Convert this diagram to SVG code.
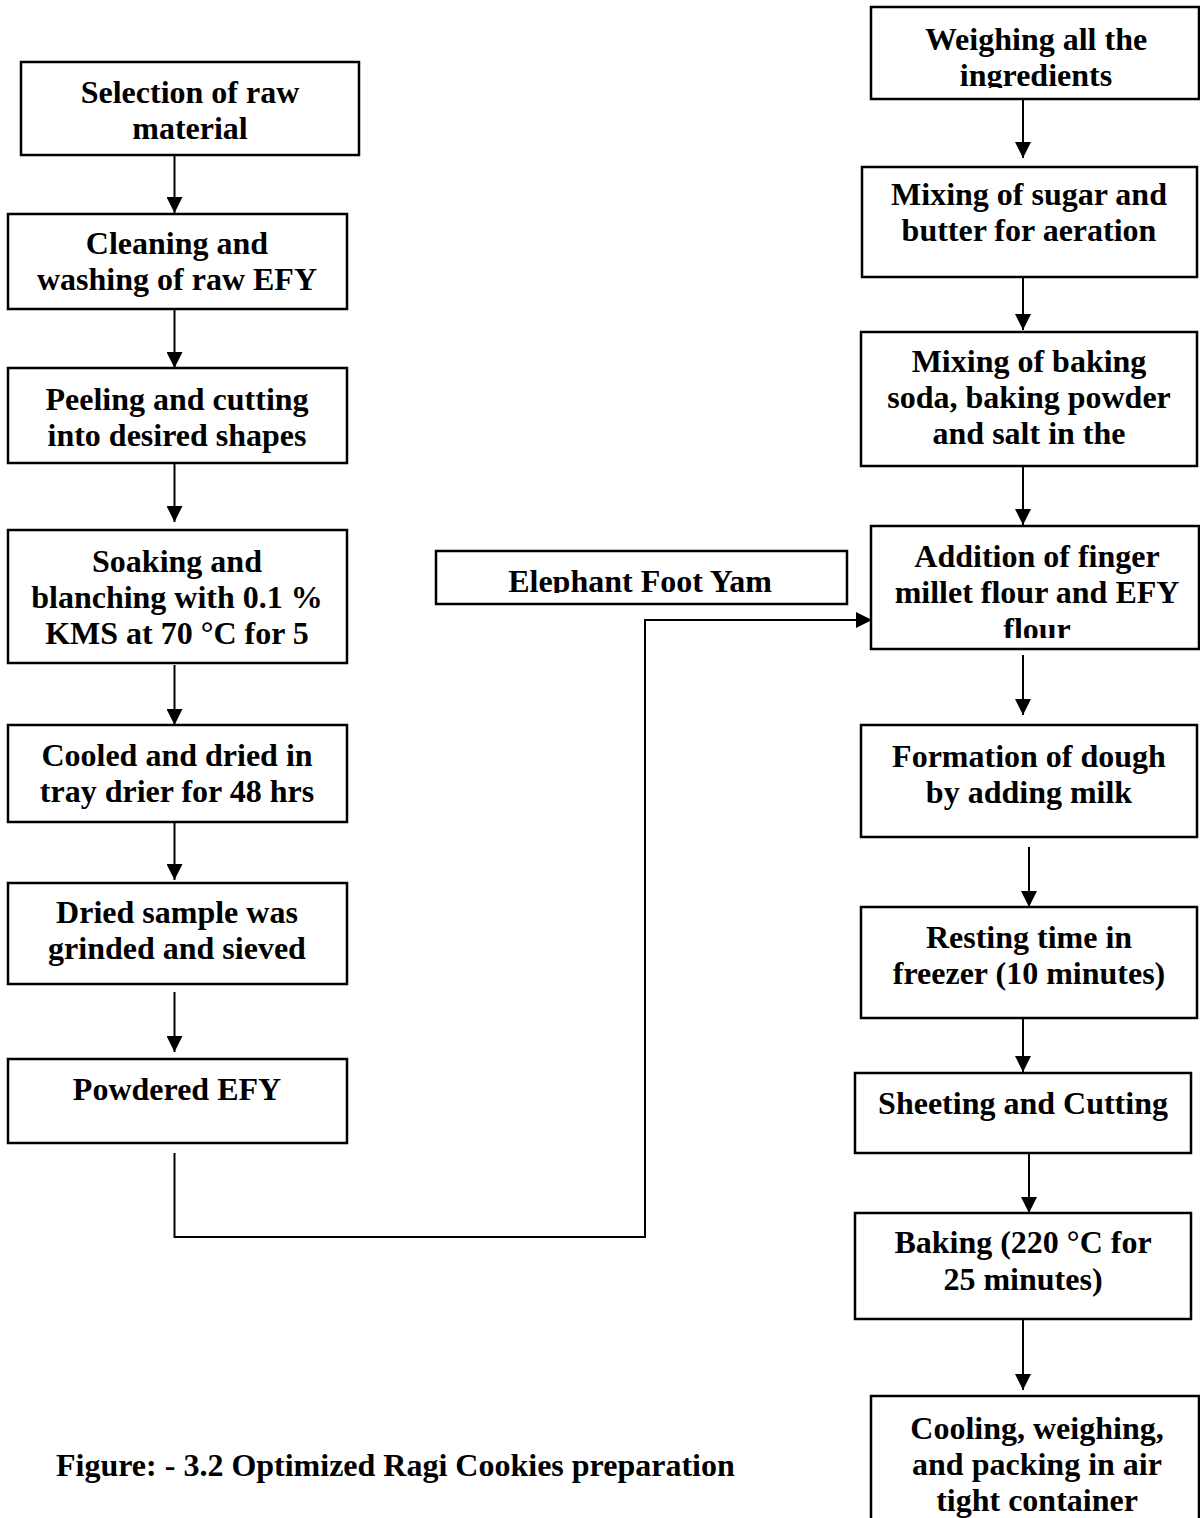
<svg xmlns="http://www.w3.org/2000/svg" width="1200" height="1518" viewBox="0 0 1200 1518">
<style>
.box{fill:#fff;stroke:#000;stroke-width:2.5}
.t{font-family:"Liberation Serif","Times New Roman",serif;font-weight:bold;font-size:32px;text-anchor:middle;fill:#000}
.cap{font-family:"Liberation Serif","Times New Roman",serif;font-weight:bold;font-size:32px;fill:#000}
.conn{stroke:#000;stroke-width:2;fill:none}
</style>
<defs>
<marker id="ah" markerUnits="userSpaceOnUse" markerWidth="16" markerHeight="16" viewBox="0 0 16 16" refX="16" refY="8" orient="auto"><path d="M0,0 L16,8 L0,16 z" fill="#000"/></marker>
<clipPath id="cR1"><rect x="871" y="0" width="329" height="88"/></clipPath>
<clipPath id="cE"><rect x="436" y="551" width="411" height="42"/></clipPath>
<clipPath id="cR4"><rect x="871" y="526" width="329" height="112"/></clipPath>
</defs>
<rect width="1200" height="1518" fill="#fff"/>
<g id="connectors">
<line class="conn" x1="174.5" y1="155" x2="174.5" y2="213" marker-end="url(#ah)"/>
<line class="conn" x1="174.5" y1="309" x2="174.5" y2="368" marker-end="url(#ah)"/>
<line class="conn" x1="174.5" y1="463" x2="174.5" y2="522" marker-end="url(#ah)"/>
<line class="conn" x1="174.5" y1="665" x2="174.5" y2="725" marker-end="url(#ah)"/>
<line class="conn" x1="174.5" y1="822" x2="174.5" y2="880" marker-end="url(#ah)"/>
<line class="conn" x1="174.5" y1="992" x2="174.5" y2="1052" marker-end="url(#ah)"/>
<path class="conn" d="M174.5,1153 V1237 H645 V620 H872" marker-end="url(#ah)"/>
<line class="conn" x1="1023" y1="99" x2="1023" y2="158" marker-end="url(#ah)"/>
<line class="conn" x1="1023" y1="277" x2="1023" y2="330" marker-end="url(#ah)"/>
<line class="conn" x1="1023" y1="466" x2="1023" y2="525" marker-end="url(#ah)"/>
<line class="conn" x1="1023" y1="655" x2="1023" y2="715" marker-end="url(#ah)"/>
<line class="conn" x1="1029" y1="847" x2="1029" y2="907" marker-end="url(#ah)"/>
<line class="conn" x1="1023" y1="1018" x2="1023" y2="1072" marker-end="url(#ah)"/>
<line class="conn" x1="1029" y1="1153" x2="1029" y2="1213" marker-end="url(#ah)"/>
<line class="conn" x1="1023" y1="1318" x2="1023" y2="1390" marker-end="url(#ah)"/>
</g>
<g id="n-selection">
<rect class="box" x="21" y="62" width="338" height="93"/>
<text class="t" x="190" y="103">Selection of raw</text>
<text class="t" x="190" y="139">material</text>
</g>
<g id="n-cleaning">
<rect class="box" x="8" y="214" width="339" height="95"/>
<text class="t" x="177" y="254">Cleaning and</text>
<text class="t" x="177" y="290">washing of raw EFY</text>
</g>
<g id="n-peeling">
<rect class="box" x="8" y="368" width="339" height="95"/>
<text class="t" x="177" y="410">Peeling and cutting</text>
<text class="t" x="177" y="446">into desired shapes</text>
</g>
<g id="n-soaking">
<rect class="box" x="8" y="530" width="339" height="133"/>
<text class="t" x="177" y="572">Soaking and</text>
<text class="t" x="177" y="608">blanching with 0.1 %</text>
<text class="t" x="177" y="644">KMS at 70 °C for 5</text>
</g>
<g id="n-cooled">
<rect class="box" x="8" y="725" width="339" height="97"/>
<text class="t" x="177" y="766">Cooled and dried in</text>
<text class="t" x="177" y="802">tray drier for 48 hrs</text>
</g>
<g id="n-dried">
<rect class="box" x="8" y="883" width="339" height="101"/>
<text class="t" x="177" y="923">Dried sample was</text>
<text class="t" x="177" y="959">grinded and sieved</text>
</g>
<g id="n-powdered">
<rect class="box" x="8" y="1059" width="339" height="84"/>
<text class="t" x="177" y="1100">Powdered EFY</text>
</g>
<g id="n-efy">
<rect class="box" x="436" y="551" width="411" height="53"/>
<text class="t" x="640" y="592" clip-path="url(#cE)">Elephant Foot Yam</text>
</g>
<g id="n-weighing">
<rect class="box" x="871" y="7" width="328" height="92"/>
<g clip-path="url(#cR1)">
<text class="t" x="1036" y="50">Weighing all the</text>
<text class="t" x="1036" y="86">ingredients</text>
</g>
</g>
<g id="n-mixing-sugar">
<rect class="box" x="862" y="167" width="335" height="110"/>
<text class="t" x="1029" y="205">Mixing of sugar and</text>
<text class="t" x="1029" y="241">butter for aeration</text>
</g>
<g id="n-mixing-soda">
<rect class="box" x="861" y="332" width="336" height="134"/>
<text class="t" x="1029" y="372">Mixing of baking</text>
<text class="t" x="1029" y="408">soda, baking powder</text>
<text class="t" x="1029" y="444">and salt in the</text>
</g>
<g id="n-addition">
<rect class="box" x="871" y="526" width="328" height="123"/>
<g clip-path="url(#cR4)">
<text class="t" x="1037" y="567">Addition of finger</text>
<text class="t" x="1037" y="603">millet flour and EFY</text>
<text class="t" x="1037" y="640">flour</text>
</g>
</g>
<g id="n-dough">
<rect class="box" x="861" y="725" width="336" height="112"/>
<text class="t" x="1029" y="767">Formation of dough</text>
<text class="t" x="1029" y="803">by adding milk</text>
</g>
<g id="n-resting">
<rect class="box" x="861" y="907" width="336" height="111"/>
<text class="t" x="1029" y="948">Resting time in</text>
<text class="t" x="1029" y="984">freezer (10 minutes)</text>
</g>
<g id="n-sheeting">
<rect class="box" x="855" y="1073" width="336" height="80"/>
<text class="t" x="1023" y="1114">Sheeting and Cutting</text>
</g>
<g id="n-baking">
<rect class="box" x="855" y="1213" width="336" height="106"/>
<text class="t" x="1023" y="1253">Baking (220 °C for</text>
<text class="t" x="1023" y="1290">25 minutes)</text>
</g>
<g id="n-cooling">
<rect class="box" x="871" y="1396" width="328" height="140"/>
<text class="t" x="1037" y="1439">Cooling, weighing,</text>
<text class="t" x="1037" y="1475">and packing in air</text>
<text class="t" x="1037" y="1511">tight container</text>
</g>
<g id="caption">
<text class="cap" x="56" y="1476">Figure: - 3.2 Optimized Ragi Cookies preparation</text>
</g>
</svg>
